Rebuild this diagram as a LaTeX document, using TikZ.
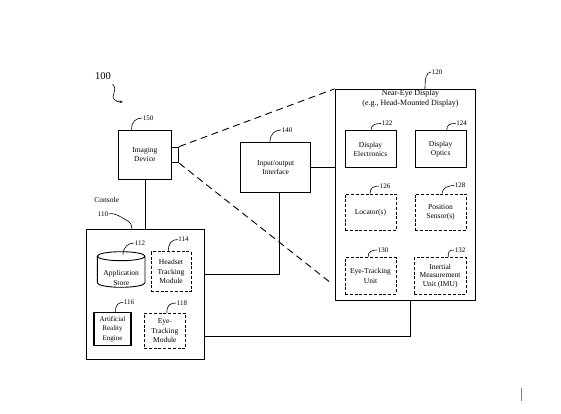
\documentclass[tikz,border=0pt]{standalone}
\usepackage{fontspec}
\setmainfont{Liberation Serif}
\usetikzlibrary{arrows.meta}
\begin{document}
\begin{tikzpicture}[x=1pt,y=-1pt,
  box/.style={draw, line width=0.9pt, rectangle, inner sep=0pt, align=center, font=\fontsize{7.5}{9.5}\selectfont},
  dbox/.style={box, dash pattern=on 3pt off 1.8pt},
  num/.style={inner sep=0.5pt, font=\fontsize{7}{8}\selectfont},
  leader/.style={line width=0.6pt},
  conn/.style={line width=0.6pt},
  fan/.style={line width=0.9pt, dash pattern=on 7pt off 4.5pt}]
\useasboundingbox (0,0) rectangle (561,414);

% Imaging device
\node[box, minimum width=52.3pt, minimum height=49pt] (img) at (144.85,154.5) {Imaging\\Device};
\node[box, minimum width=7.7pt, minimum height=15.7pt] (lens) at (174.85,154.85) {};
\node[num] (l150) at (148,118) {150};

% Near-eye display
\node[draw, line width=0.9pt, minimum width=140pt, minimum height=211.4pt, inner sep=0pt] (ned) at (405,195) {};
\node[inner sep=0pt, align=center, font=\fontsize{8}{10}\selectfont] (nedt) at (410.5,99) {Near-Eye Display\\(e.g., Head-Mounted Display)};
\node[num] (l120) at (437,72) {120};

\node[box, minimum width=51pt, minimum height=37pt] (de) at (370.5,149.2) {Display\\Electronics};
\node[box, minimum width=50.7pt, minimum height=37pt] (do) at (440.65,149.2) {Display\\Optics};
\node[dbox, minimum width=51pt, minimum height=36.7pt] (loc) at (370.5,212.35) {Locator(s)};
\node[dbox, minimum width=51pt, minimum height=36.7pt] (ps) at (440.5,212.35) {Position\\Sensor(s)};
\node[dbox, minimum width=51pt, minimum height=36.3pt] (etu) at (370.5,275.85) {Eye-Tracking\\Unit};
\node[dbox, minimum width=51.7pt, minimum height=36.3pt, font=\fontsize{7.5}{8.6}\selectfont] (imu) at (440.15,275.85) {Inertial\\Measurement\\Unit (IMU)};
\node[num] (l122) at (387,123.5) {122};
\node[num] (l124) at (461.5,123.5) {124};
\node[num] (l126) at (385,186) {126};
\node[num] (l128) at (460,185.5) {128};
\node[num] (l130) at (383,250) {130};
\node[num] (l132) at (460,250) {132};

% IO interface
\node[box, minimum width=70pt, minimum height=50.4pt] (io) at (275.7,167.5) {Input/output\\Interface};
\node[num] (l140) at (287,130) {140};

% Console
\node[draw, line width=0.9pt, minimum width=118pt, minimum height=129.7pt, inner sep=0pt] (con) at (145,294.15) {};
\node[inner sep=0pt, font=\fontsize{7.5}{9}\selectfont] (cont) at (106.7,200) {Console};
\node[num] (l110) at (103,214) {110};

\node[inner sep=0pt, align=center, font=\fontsize{7.5}{9.5}\selectfont] (app) at (121.2,278) {Application\\Store};
\draw[line width=0.9pt] (97.3,256.2) -- (97.3,282.8) arc[start angle=180, end angle=360, x radius=23.85pt, y radius=4.5pt] -- (145.0,256.2) arc[start angle=0, end angle=360, x radius=23.85pt, y radius=4.5pt];
\node[num] (l112) at (140,243) {112};

\node[dbox, minimum width=40pt, minimum height=40pt] (htm) at (171,271.7) {Headset\\Tracking\\Module};
\node[num] (l114) at (183.5,239.5) {114};
\node[box, line width=1.3pt, minimum width=37pt, minimum height=33.4pt, font=\fontsize{7}{9.5}\selectfont] (are) at (112.5,329) {Artificial\\Reality\\Engine};
\node[num] (l116) at (129,302.5) {116};
\node[dbox, minimum width=41.7pt, minimum height=35pt] (etm) at (164.85,330.8) {Eye-\\Tracking\\Module};
\node[num] (l118) at (182,303) {118};

% 100 label and arrow
\node[inner sep=0pt, font=\fontsize{10.5}{12}\selectfont] (l100) at (103,76) {100};
\coordinate (a100) at (123,102);
\draw[line width=0.6pt, -{Stealth[length=3.5pt,width=2.5pt]}] (112.5,84) .. controls (119,91) and (109,96) .. (115,100) .. controls (117,101.5) .. (a100);

% leaders
\draw[leader] ([xshift=-13.35pt]img.north) .. controls +(0,-8) and +(-6,0) .. (l150.west);
\draw[leader] ([xshift=20pt]ned.north) .. controls +(0,-10) and +(-5,0) .. (l120.west);
\draw[leader] ([xshift=0.5pt]de.north) .. controls +(0,-6) and +(-5,0) .. (l122.west);
\draw[leader] ([xshift=6pt]do.north) .. controls +(0,-6) and +(-5,0) .. (l124.west);
\draw[leader] ([xshift=-0.5pt]loc.north) .. controls +(0,-6) and +(-5,0) .. (l126.west);
\draw[leader] ([xshift=1.5pt]ps.north) .. controls +(0,-6) and +(-5,0) .. (l128.west);
\draw[leader] ([xshift=-2.5pt]etu.north) .. controls +(0,-6) and +(-5,0) .. (l130.west);
\draw[leader] ([xshift=8pt]imu.north) .. controls +(0,-6) and +(-5,0) .. (l132.west);
\draw[leader] ([xshift=-5.7pt]io.north) .. controls +(0,-8) and +(-6,0) .. (l140.west);
\draw[leader] ([xshift=-2.7pt]htm.north) .. controls +(0,-8) and +(-6,0) .. (l114.west);
\draw[leader] ([xshift=3pt]are.north) .. controls +(0,-8) and +(-4,0) .. (l116.west);
\draw[leader] ([xshift=2pt]etm.north) .. controls +(0,-8) and +(-6,0) .. (l118.west);
\draw[leader] (123,255) .. controls +(0,-8) and +(-6,0) .. (l112.west);
\draw[leader] (l110.east) .. controls +(6,-2) and +(-4,-2) .. (127,220.5) .. controls +(4,2) and +(0,-3) .. ([xshift=-13pt]con.north);

% connectors
\draw[conn] (img.south) -- (img.south |- con.north);
\draw[conn] (io.east) -- (io.east -| ned.west);
\draw[conn] ([xshift=3.3pt]io.south) |- ([yshift=19.85pt]con.east);
\draw[conn] ([xshift=5pt]ned.south) |- ([yshift=-41.85pt]con.east);

% fan lines
\coordinate (fanend) at (331,283);
\draw[fan] (lens.north east) -- (ned.north west);
\draw[fan] (lens.south east) -- (fanend);

% small mark
\draw[gray, line width=0.5pt] (521,388.3) -- (521,401);
\end{tikzpicture}
\end{document}
